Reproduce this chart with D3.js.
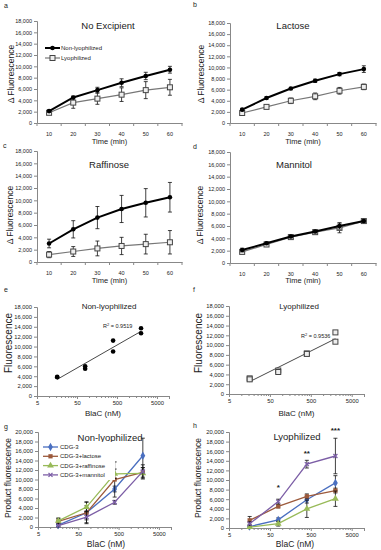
<!DOCTYPE html>
<html>
<head>
<meta charset="utf-8">
<script src="https://cdn.jsdelivr.net/npm/d3@7/dist/d3.min.js"></script>
<style>
body { margin:0; background:#fff; }
text { font-family: "Liberation Sans", Arial, sans-serif; fill:#222; }
</style>
</head>
<body>
<svg id="fig" width="381" height="550"></svg>
<script>

// time course (a-d), x categories in minutes
var times = [10, 20, 30, 40, 50, 60];
var ticks18 = [0, 2000, 4000, 6000, 8000, 10000, 12000, 14000, 16000, 18000];
var ticks20 = [0, 2000, 4000, 6000, 8000, 10000, 12000, 14000, 16000, 18000, 20000];

var noExcNon = [2100, 4500, 5800, 7100, 8300, 9400], noExcNonErr = [200, 250, 500, 700, 650, 600];
var noExcLyo = [1800, 3600, 4300, 5000, 5800, 6300], noExcLyoErr = [300, 1000, 1000, 1200, 1500, 1400];
var lacNon = [2400, 4500, 6200, 7600, 8800, 9700], lacNonErr = [200, 200, 200, 300, 300, 600];
var lacLyo = [1800, 2900, 4000, 4800, 5800, 6500], lacLyoErr = [200, 200, 500, 600, 600, 500];
var rafNon = [3000, 5300, 7200, 8600, 9600, 10500], rafNonErr = [700, 1400, 1800, 2200, 2300, 2400];
var rafLyo = [1200, 1700, 2200, 2600, 2900, 3200], rafLyoErr = [500, 800, 1200, 1400, 1600, 1900];
var manNon = [2100, 3200, 4300, 5100, 6000, 6800], manNonErr = [300, 200, 200, 200, 500, 200];
var manLyo = [1800, 3000, 4200, 5000, 5700, 6800], manLyoErr = [200, 200, 200, 300, 800, 200];

// BlaC dose (e-h)
var blac = [16, 80, 400, 2000];
var logTicks = [5, 50, 500, 5000];
var eX = [16, 16, 80, 80, 400, 400, 2000, 2000];
var eNon = [3900, 3800, 6000, 5500, 11200, 9000, 13700, 12700];
var fLyo = [3200, 3000, 4800, 4500, 8300, 8200, 12600, 10700];

var gCdg = [400, 3000, 8000, 15000], gCdgErr = [300, 2300, 600, 3700];
var gLac = [1200, 3000, 10000, 11500], gLacErr = [600, 1500, 3700, 1000];
var gRaf = [1300, 4200, 11200, 11300], gRafErr = [600, 1000, 1000, 1200];
var gMan = [300, 2100, 5200, 11700], gManErr = [300, 1200, 400, 1400];
var hCdg = [300, 1700, 5900, 9400], hCdgErr = [300, 400, 700, 1500];
var hLac = [1600, 4500, 6600, 7800], hLacErr = [800, 300, 500, 500];
var hRaf = [200, 900, 4000, 6100], hRafErr = [200, 500, 1800, 1600];
var hMan = [900, 5500, 13300, 15000], hManErr = [400, 500, 800, 3700];

var legG = ["CDG-3", "CDG-3+lactose", "CDG-3+raffinose", "CDG-3+mannitol"];
var colG = ["#4a6fc0", "#9c5a3c", "#98ba58", "#7c5ea6"];

// significance marks in h, placed above the 80, 400 and 2000 nM points
var stars = ["*", "**", "***"], starLevel = [9000, 16100, 20900];

var svg = d3.select("#fig");
var fmt = d3.format(",");

function marker(g, kind, cx, cy, col) {
  if (kind == "dot") {
    g.append("circle").attr("cx", cx).attr("cy", cy).attr("r", 2.3).attr("fill", "#000");
  } else if (kind == "sqOpen") {
    g.append("rect").attr("x", cx - 2.5).attr("y", cy - 2.5).attr("width", 5).attr("height", 5)
      .attr("fill", "#eee").attr("stroke", "#444").attr("stroke-width", 1);
  } else if (kind == "x") {
    g.append("path").attr("d", "M-2,-2L2,2M-2,2L2,-2").attr("transform", "translate(" + cx + "," + cy + ")")
      .attr("stroke", col).attr("stroke-width", 1.3);
  } else {
    var sym = kind == "diamond" ? d3.symbolDiamond : kind == "tri" ? d3.symbolTriangle : d3.symbolSquare;
    g.append("path").attr("d", d3.symbol().type(sym).size(kind == "sq" ? 18 : 20)())
      .attr("transform", "translate(" + cx + "," + cy + ")").attr("fill", col);
  }
}

function frame(o) {
  var g = svg.append("g");
  var y = d3.scaleLinear().domain([0, o.ymax]).range([o.y0, o.y1]);
  var ya = g.append("g").attr("transform", "translate(" + o.x0 + ",0)")
    .call(d3.axisLeft(y).tickValues(o.yticks).tickFormat(fmt).tickSize(3).tickPadding(2));
  ya.selectAll("text").style("font-size", o.tickFs + "px").attr("fill", "#333");
  ya.selectAll("line,path").attr("stroke", "#888");

  var x, px;
  if (o.log) {
    x = d3.scaleLog().domain([5, 10000]).range([o.x0, o.x1]);
    px = function (d) { return x(d); };
    var minor = [];
    logTicks.forEach(function (b) { for (var k = 2; k <= 9; k++) if (b * k <= 10000) minor.push(b * k); });
    var xm = g.append("g").attr("transform", "translate(0," + o.y0 + ")")
      .call(d3.axisBottom(x).tickValues(minor).tickFormat("").tickSize(2));
    xm.selectAll("line,path").attr("stroke", "#888");
    var xa = g.append("g").attr("transform", "translate(0," + o.y0 + ")")
      .call(d3.axisBottom(x).tickValues(logTicks).tickFormat(d3.format("d")).tickSize(3).tickPadding(o.xpad));
    xa.selectAll("text").style("font-size", o.tickFs + "px").attr("fill", "#333");
    xa.selectAll("line,path").attr("stroke", "#888");
  } else {
    x = d3.scaleBand().domain(times).range([o.x0, o.x1]);
    px = function (d) { return x(d) + x.bandwidth() / 2; };
    var xa = g.append("g").attr("transform", "translate(0," + o.y0 + ")")
      .call(d3.axisBottom(x).tickSize(0).tickPadding(o.xpad));
    xa.selectAll("text").style("font-size", o.tickFs + "px").attr("fill", "#333");
    xa.selectAll("path").attr("stroke", "#888");
    var edges = times.map(function (d) { return x(d); }).concat([x.range()[1]]);
    g.selectAll(null).data(edges).enter().append("line")
      .attr("x1", function (d) { return d; }).attr("x2", function (d) { return d; })
      .attr("y1", o.y0).attr("y2", o.y0 + 3).attr("stroke", "#888");
  }

  g.append("text").attr("x", o.lx).attr("y", o.ly).style("font-size", "7px").text(o.letter);
  g.append("text").attr("x", o.tx).attr("y", o.ty).attr("text-anchor", "middle")
    .style("font-size", o.titleFs + "px").text(o.title);
  g.append("text").attr("transform", "translate(" + o.yx + "," + o.yy + ") rotate(-90)")
    .attr("text-anchor", "middle").style("font-size", o.yFs + "px").text(o.ylabel);
  g.append("text").attr("x", o.xtx || (o.x0 + o.x1) / 2).attr("y", o.xty).attr("text-anchor", "middle")
    .style("font-size", o.xFs + "px").text(o.xlabel);
  return { g: g, x: px, y: y };
}

function series(p, xs, ys, errs, col, width, mk, mcol) {
  var pts = xs.map(function (d, i) { return [p.x(d), p.y(ys[i])]; });
  if (errs) {
    pts.forEach(function (q, i) {
      var t = p.y(ys[i] + errs[i]), b = p.y(ys[i] - errs[i]);
      p.g.append("line").attr("x1", q[0]).attr("x2", q[0]).attr("y1", t).attr("y2", b).attr("stroke", "#111").attr("stroke-width", 0.8);
      [t, b].forEach(function (v) {
        p.g.append("line").attr("x1", q[0] - 2).attr("x2", q[0] + 2).attr("y1", v).attr("y2", v).attr("stroke", "#111").attr("stroke-width", 0.8);
      });
    });
  }
  p.g.append("path").attr("d", d3.line()(pts)).attr("fill", "none").attr("stroke", col).attr("stroke-width", width);
  pts.forEach(function (q) { marker(p.g, mk, q[0], q[1], mcol || col); });
}

function timePanel(o, non, nonErr, lyo, lyoErr) {
  o.log = false; o.ymax = 18000; o.yticks = ticks18; o.tickFs = 5.5; o.xpad = 9;
  o.ylabel = "\u0394 Fluorescence"; o.yFs = 8.5; o.xlabel = "Time (min)"; o.xFs = 7.5; o.titleFs = 9.5;
  var p = frame(o);
  series(p, times, lyo, lyoErr, "#777", 1.2, "sqOpen");
  series(p, times, non, nonErr, "#000", 2, "dot");
  return p;
}

var pa = timePanel({ letter: "a", lx: 4, ly: 8, x0: 37, x1: 182, y0: 123, y1: 21, title: "No Excipient", tx: 108, ty: 29, yx: 14, yy: 74, xty: 144 },
  noExcNon, noExcNonErr, noExcLyo, noExcLyoErr);
timePanel({ letter: "b", lx: 193, ly: 7, x0: 230, x1: 376, y0: 123, y1: 23, title: "Lactose", tx: 293, ty: 29, yx: 204, yy: 74, xty: 144 },
  lacNon, lacNonErr, lacLyo, lacLyoErr);
timePanel({ letter: "c", lx: 3, ly: 148, x0: 37, x1: 182, y0: 262, y1: 151, title: "Raffinose", tx: 109, ty: 168, yx: 13, yy: 215, xty: 283 },
  rafNon, rafNonErr, rafLyo, rafLyoErr);
timePanel({ letter: "d", lx: 193, ly: 149, x0: 230, x1: 376, y0: 263, y1: 152, title: "Mannitol", tx: 294, ty: 168, yx: 203, yy: 215, xty: 283 },
  manNon, manNonErr, manLyo, manLyoErr);

// legend in a
[["Non-lyophilized", "#000", 2, "dot", 48], ["Lyophilized", "#777", 1.2, "sqOpen", 58]].forEach(function (l) {
  pa.g.append("line").attr("x1", 45).attr("x2", 60).attr("y1", l[4]).attr("y2", l[4]).attr("stroke", l[1]).attr("stroke-width", l[2]);
  marker(pa.g, l[3], 52.5, l[4], l[1]);
  pa.g.append("text").attr("x", 61).attr("y", l[4] + 2).style("font-size", "6px").text(l[0]);
});

// e, f: scatter with log trend line
function fitPanel(o, xs, ys, mk, r2, rx, ry) {
  o.log = true; o.ymax = 18000; o.yticks = ticks18; o.tickFs = 5.8; o.xpad = 2;
  o.ylabel = "Fluorescence"; o.yFs = 10; o.xlabel = "BlaC (nM)"; o.xFs = 8;
  var p = frame(o);
  var lx = xs.map(Math.log10), mx = d3.mean(lx), my = d3.mean(ys);
  var b = d3.sum(lx, function (v, i) { return (v - mx) * (ys[i] - my); }) / d3.sum(lx, function (v) { return (v - mx) * (v - mx); });
  var a = my - b * mx;
  var ends = d3.extent(xs);
  p.g.append("path").attr("d", d3.line()(ends.map(function (d) { return [p.x(d), p.y(a + b * Math.log10(d))]; })))
    .attr("stroke", "#333").attr("stroke-width", 0.9).attr("fill", "none");
  xs.forEach(function (d, i) { marker(p.g, mk, p.x(d), p.y(ys[i]), "#000"); });
  p.g.append("text").attr("x", rx).attr("y", ry).style("font-size", "5.5px").html("R<tspan dy='-2' style='font-size:4px'>2</tspan><tspan dy='2'> = " + r2 + "</tspan>");
}
fitPanel({ letter: "e", lx: 4, ly: 292, x0: 37, x1: 169, y0: 396, y1: 307, title: "Non-lyophilized", tx: 109, ty: 309, titleFs: 8, yx: 12, yy: 343, xty: 416 },
  eX, eNon, "dot", "0.9519", 103, 328);
fitPanel({ letter: "f", lx: 193, ly: 292, x0: 229, x1: 364, y0: 394, y1: 306, title: "Lyophilized", tx: 299, ty: 309, titleFs: 8, yx: 202, yy: 343, xty: 416 },
  eX, fLyo, "sqOpen", "0.9536", 301, 338);

// g, h: product fluorescence vs BlaC
function dosePanel(o, sets) {
  o.log = true; o.ymax = 20000; o.yticks = ticks20; o.tickFs = 5.8; o.xpad = 2;
  o.ylabel = "Product fluorescence"; o.yFs = 8.5; o.xlabel = "BlaC (nM)"; o.xFs = 8.5; o.titleFs = 9.5;
  var p = frame(o);
  var mks = ["diamond", "sq", "tri", "x"];
  sets.forEach(function (s, i) { series(p, blac, s[0], s[1], colG[i], 1.3, mks[i]); });
  return p;
}
var pg = dosePanel({ letter: "g", lx: 4, ly: 429, x0: 38, x1: 171, y0: 527, y1: 432, title: "Non-lyophilized", tx: 110, ty: 441, yx: 11, yy: 478, xty: 547, xtx: 106 },
  [[gCdg, gCdgErr], [gLac, gLacErr], [gRaf, gRafErr], [gMan, gManErr]]);
var ph = dosePanel({ letter: "h", lx: 193, ly: 428, x0: 229, x1: 364, y0: 528, y1: 432, title: "Lyophilized", tx: 297, ty: 440, yx: 201, yy: 478, xty: 547, xtx: 295 },
  [[hCdg, hCdgErr], [hLac, hLacErr], [hRaf, hRafErr], [hMan, hManErr]]);

// legend g
pg.g.append("rect").attr("x", 41).attr("y", 442).attr("width", 74).attr("height", 38).attr("fill", "#fff");
legG.forEach(function (t, i) {
  var yy = 447 + i * 9.3;
  pg.g.append("line").attr("x1", 43).attr("x2", 58).attr("y1", yy).attr("y2", yy).attr("stroke", colG[i]).attr("stroke-width", 1.3);
  marker(pg.g, ["diamond", "sq", "tri", "x"][i], 50.5, yy, colG[i]);
  pg.g.append("text").attr("x", 60).attr("y", yy + 2).style("font-size", "6px").text(t);
});

stars.forEach(function (s, i) {
  ph.g.append("text").attr("x", ph.x(blac[i + 1])).attr("y", ph.y(starLevel[i]) + 5).attr("text-anchor", "middle")
    .style("font-size", "8px").style("font-weight", "bold").text(s);
});

</script>
</body>
</html>
